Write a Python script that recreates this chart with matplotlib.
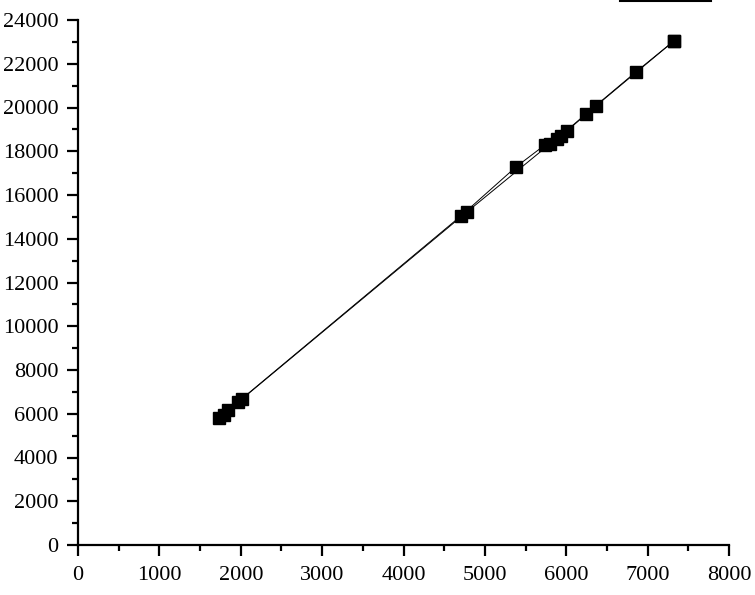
import matplotlib
matplotlib.use("Agg")
import matplotlib.pyplot as plt
from matplotlib.lines import Line2D
from matplotlib.ticker import MultipleLocator

x1 = [1732, 1843, 1966, 4705, 5381, 5737, 5885, 6241, 6855, 7322]
y1 = [5806, 6171, 6537, 15040, 17280, 18286, 18560, 19703, 21623, 23040]
x2 = [1790, 2015, 4779, 5799, 5934, 6007, 6364, 7322]
y2 = [5950, 6674, 15223, 18331, 18697, 18926, 20069, 23040]

plt.rcParams['font.family'] = ['Liberation Serif', 'DejaVu Serif']

fig = plt.figure(figsize=(7.55, 5.95), dpi=100)
ax = fig.add_axes([78/755, 1-545/595, (729-78)/755, (545-20)/595])

ax.plot(x1, y1, color='black', lw=0.7, marker='s', ms=8.5, mec='black', mfc='black', clip_on=False)
ax.plot(x2, y2, color='black', lw=0.7, marker='s', ms=8.5, mec='black', mfc='black', clip_on=False)

ax.set_xlim(0, 8000)
ax.set_ylim(0, 24000)
ax.xaxis.set_major_locator(MultipleLocator(1000))
ax.xaxis.set_minor_locator(MultipleLocator(500))
ax.yaxis.set_major_locator(MultipleLocator(2000))
ax.yaxis.set_minor_locator(MultipleLocator(1000))
for s in ['top', 'right']:
    ax.spines[s].set_visible(False)
for s in ['left', 'bottom']:
    ax.spines[s].set_linewidth(1.6)
ax.tick_params(which='major', direction='out', length=8, width=1.6, labelsize=16)
ax.tick_params(axis='x', which='major', pad=7)
ax.tick_params(axis='y', which='major', pad=6)
ax.tick_params(which='minor', direction='out', length=4, width=1.6)

fig.add_artist(Line2D([620/755, 711/755], [1-1/595, 1-1/595], color='black', lw=1.5, transform=fig.transFigure))

fig.savefig('out.png', dpi=100)
